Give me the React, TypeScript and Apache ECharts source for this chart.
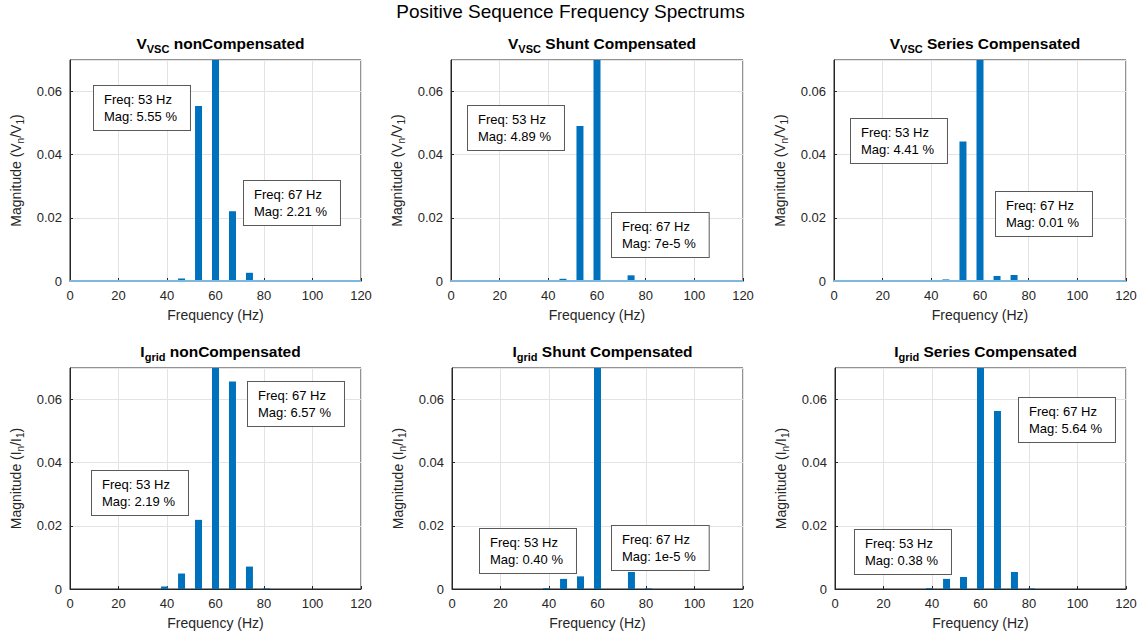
import React, { useEffect, useRef } from "react";
import * as echarts from "echarts";

// Frequencies (Hz) of the spectrum bins shown in each panel
const freqsVTop = [6, 13, 20, 40, 46, 53, 60, 67, 74, 81, 88, 93, 106, 113];
const freqsI = [39, 46, 53, 60, 67, 74, 81];

// Magnitudes (per unit of fundamental); fundamental = 1 (clipped at 0.07)
const vNonComp = [0.0001, 0.0002, 0.0002, 0.0002, 0.0008, 0.0554, 1, 0.0221, 0.0026, 0.0002, 0.0001, 0.0001, 0.0003, 0.0001];
const vShunt = [0.0001, 0.0002, 0.0001, 0.0002, 0.0007, 0.0491, 1, 0.0000007, 0.0018, 0.0001, 0.0001, 0.0001, 0.0001, 0.0001];
const vSeries = [0.0001, 0.0001, 0.00005, 0.0001, 0.0005, 0.0442, 1, 0.0016, 0.0019, 0.00005, 0.00005, 0.0001, 0.00005, 0.0001];
const iNonComp = [0.0008, 0.0049, 0.0219, 1, 0.0657, 0.0071, 0.0002];
const iShunt = [0.0003, 0.0032, 0.0040, 1, 0.0000001, 0.0054, 0.0002];
const iSeries = [0.0003, 0.0032, 0.0038, 1, 0.0564, 0.0054, 0.0002];

const panelTitles = [
  ["V", "VSC", " nonCompensated"],
  ["V", "VSC", " Shunt Compensated"],
  ["V", "VSC", " Series Compensated"],
  ["I", "grid", " nonCompensated"],
  ["I", "grid", " Shunt Compensated"],
  ["I", "grid", " Series Compensated"],
];

const annotations = [
  ["Freq: 53 Hz\nMag: 5.55 %", "Freq: 67 Hz\nMag: 2.21 %"],
  ["Freq: 53 Hz\nMag: 4.89 %", "Freq: 67 Hz\nMag: 7e-5 %"],
  ["Freq: 53 Hz\nMag: 4.41 %", "Freq: 67 Hz\nMag: 0.01 %"],
  ["Freq: 53 Hz\nMag: 2.19 %", "Freq: 67 Hz\nMag: 6.57 %"],
  ["Freq: 53 Hz\nMag: 0.40 %", "Freq: 67 Hz\nMag: 1e-5 %"],
  ["Freq: 53 Hz\nMag: 0.38 %", "Freq: 67 Hz\nMag: 5.64 %"],
];

const xTicks = { min: 0, max: 120, interval: 20 };
const yTicks = { min: 0, max: 0.07, interval: 0.02 };

const FONT = "'Liberation Sans', Arial, Helvetica, sans-serif";
const BLUE = "#0072BD";
const AXIS = "#262626";

export default function App() {
  const ref = useRef<HTMLDivElement>(null);
  useEffect(() => {
    if (!ref.current) return;
    const chart = echarts.init(ref.current, undefined, { renderer: "svg" });

    const gridsPx = [
      { left: 70, top: 60, width: 291, height: 221 },
      { left: 451, top: 60, width: 292, height: 221 },
      { left: 834, top: 60, width: 292, height: 221 },
      { left: 70, top: 368, width: 291, height: 221 },
      { left: 452, top: 368, width: 291, height: 221 },
      { left: 835, top: 368, width: 291, height: 221 },
    ];
    const annPos = [
      [[94, 86], [244, 181]],
      [[468, 106], [612, 213]],
      [[851, 119], [996, 192]],
      [[92, 471], [248, 382]],
      [[480, 529], [612, 526]],
      [[855, 530], [1019, 398]],
    ];
    const seriesData = [
      [freqsVTop, vNonComp],
      [freqsVTop, vShunt],
      [freqsVTop, vSeries],
      [freqsI, iNonComp],
      [freqsI, iShunt],
      [freqsI, iSeries],
    ];
    const yNames = [
      ["V", "V"], ["V", "V"], ["V", "V"], ["I", "I"], ["I", "I"], ["I", "I"],
    ];

    const grid = gridsPx.map((g) => ({
      ...g,
      show: true,
      borderColor: AXIS,
      borderWidth: 1,
      backgroundColor: "#fff",
      containLabel: false,
    }));

    const xAxis = gridsPx.map((_, i) => ({
      type: "value",
      gridIndex: i,
      ...xTicks,
      name: "Frequency (Hz)",
      nameLocation: "middle",
      nameGap: 27,
      nameTextStyle: { fontFamily: FONT, fontSize: 14, color: AXIS },
      axisLine: { show: true, lineStyle: { color: AXIS } },
      axisTick: { show: true, inside: true, length: 3, lineStyle: { color: AXIS } },
      axisLabel: { fontFamily: FONT, fontSize: 13, color: AXIS, margin: 8 },
      splitLine: { show: true, lineStyle: { color: "#e3e3e3" } },
    }));

    const yAxis = gridsPx.map((_, i) => ({
      type: "value",
      gridIndex: i,
      ...yTicks,
      name: `Magnitude (${yNames[i][0]}{sub|n}/${yNames[i][1]}{sub|1})`,
      nameLocation: "middle",
      nameGap: 45,
      nameRotate: 90,
      nameTextStyle: {
        fontFamily: FONT,
        fontSize: 14,
        color: AXIS,
        rich: {
          sub: { fontFamily: FONT, fontSize: 10, color: AXIS, padding: [9, 0, 0, 0] },
        },
      },
      axisLine: { show: true, lineStyle: { color: AXIS } },
      axisTick: { show: true, inside: true, length: 3, lineStyle: { color: AXIS } },
      axisLabel: {
        fontFamily: FONT,
        fontSize: 13,
        color: AXIS,
        margin: 8,
        showMaxLabel: false,
        formatter: (v: number) => (v === 0 ? "0" : v.toFixed(2)),
      },
      splitLine: { show: true, lineStyle: { color: "#e3e3e3" } },
    }));

    const series: any[] = seriesData.map(([xs, ys], i) => ({
      type: "bar",
      xAxisIndex: i,
      yAxisIndex: i,
      data: (xs as number[]).map((x, k) => [x, (ys as number[])[k]]),
      barWidth: 7,
      clip: true,
      itemStyle: { color: BLUE },
      markLine:
        i < 3
          ? {
              silent: true,
              symbol: "none",
              label: { show: false },
              lineStyle: { color: "#7fb8de", width: 2, type: "solid" },
              data: [{ yAxis: 0 }],
            }
          : undefined,
    }));

    const title: any[] = [
      {
        text: "Positive Sequence Frequency Spectrums",
        left: "center",
        top: -3,
        textStyle: { fontFamily: FONT, fontSize: 19, fontWeight: "normal", color: "#000" },
      },
      ...gridsPx.map((g, i) => ({
        text: `{b|${panelTitles[i][0]}}{s|${panelTitles[i][1]}}{b|${panelTitles[i][2]}}`,
        left: g.left + g.width / 2,
        textAlign: "center",
        top: g.top - 32,
        textStyle: {
          rich: {
            b: { fontFamily: FONT, fontSize: 15.5, fontWeight: "bold", color: "#000" },
            s: { fontFamily: FONT, fontSize: 11, fontWeight: "bold", color: "#000", padding: [10, 0, 0, 0] },
          },
        },
      })),
    ];

    const graphic: any[] = [];
    annPos.forEach((pair, i) => {
      pair.forEach((p, j) => {
        graphic.push({
          type: "text",
          x: p[0],
          y: p[1],
          z: 100,
          style: {
            text: annotations[i][j],
            fontFamily: FONT,
            fontSize: 13,
            lineHeight: 17,
            fill: "#000",
            backgroundColor: "#fff",
            borderColor: "#5a5a5a",
            borderWidth: 1,
            padding: [5, 13, 5, 10],
          },
        });
      });
    });

    chart.setOption({
      animation: false,
      backgroundColor: "#fff",
      title,
      grid,
      xAxis,
      yAxis,
      series,
      graphic,
    });

    return () => chart.dispose();
  }, []);

  return (
    <div
      ref={ref}
      style={{ width: 1141, height: 641, position: "absolute", left: 0, top: 0 }}
    />
  );
}
